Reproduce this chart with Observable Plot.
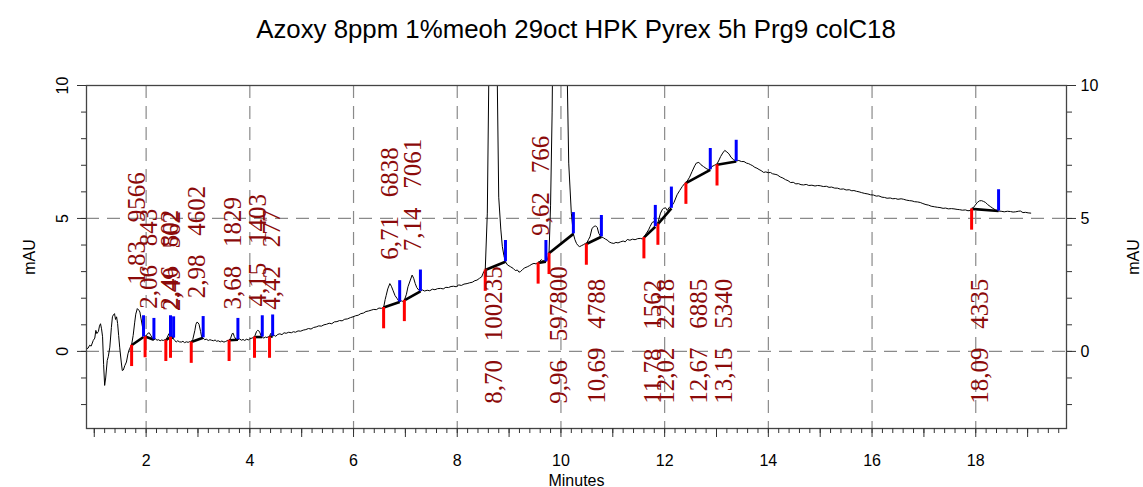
<!DOCTYPE html>
<html><head><meta charset="utf-8">
<script src="https://cdn.jsdelivr.net/npm/d3@7"></script>
<script src="https://cdn.jsdelivr.net/npm/@observablehq/plot@0.6"></script>
<style>
body{margin:0;background:#fff;}
#title{height:56px;position:relative;width:1143px;font-family:"Liberation Sans",Arial,sans-serif;}
#title span{position:absolute;left:576px;top:29px;transform:translate(-50%,-50%);font-size:25.8px;white-space:nowrap;color:#000;}
</style></head><body>
<div id="title"><span>Azoxy 8ppm 1%meoh 29oct HPK Pyrex 5h Prg9 colC18</span></div>
<div id="chart"></div>
<script>
// ---- chromatogram trace (minutes, mAU) ----
const traceT = [0.85,0.88,0.91,0.94,0.98,1.01,1.03,1.05,1.08,1.10,1.12,1.14,1.16,1.18,1.20,1.22,1.25,1.27,1.30,1.33,1.35,1.37,1.39,1.41,1.43,1.45,1.47,1.49,1.52,1.54,1.56,1.59,1.62,1.65,1.68,1.72,1.75,1.78,1.80,1.83,1.86,1.88,1.90,1.93,1.96,1.98,2.01,2.04,2.06,2.09,2.12,2.15,2.18,2.21,2.24,2.27,2.30,2.33,2.36,2.38,2.41,2.44,2.46,2.48,2.49,2.51,2.53,2.55,2.58,2.61,2.64,2.68,2.71,2.74,2.78,2.81,2.84,2.87,2.90,2.94,2.96,2.98,3.00,3.02,3.05,3.07,3.10,3.13,3.16,3.20,3.23,3.26,3.30,3.33,3.36,3.39,3.43,3.46,3.50,3.53,3.56,3.60,3.63,3.66,3.68,3.70,3.73,3.77,3.80,3.84,3.87,3.90,3.94,3.97,4.00,4.04,4.07,4.10,4.13,4.15,4.17,4.19,4.22,4.24,4.27,4.30,4.33,4.36,4.38,4.40,4.42,4.44,4.47,4.50,4.54,4.58,4.62,4.66,4.70,4.75,4.80,4.84,4.88,4.93,4.98,5.03,5.08,5.13,5.18,5.23,5.28,5.33,5.38,5.43,5.48,5.53,5.58,5.63,5.68,5.73,5.78,5.83,5.88,5.94,5.99,6.04,6.09,6.14,6.19,6.24,6.29,6.34,6.39,6.44,6.49,6.54,6.58,6.61,6.63,6.66,6.70,6.73,6.76,6.80,6.84,6.87,6.89,6.92,6.95,6.98,7.02,7.05,7.09,7.13,7.16,7.19,7.22,7.26,7.29,7.33,7.37,7.42,7.47,7.52,7.57,7.62,7.68,7.73,7.78,7.83,7.88,7.93,7.98,8.03,8.08,8.13,8.19,8.24,8.29,8.34,8.38,8.43,8.47,8.51,8.54,8.58,8.61,8.65,8.70,8.74,8.77,8.80,8.84,8.87,8.90,8.93,8.97,9.03,9.08,9.12,9.16,9.19,9.22,9.26,9.30,9.35,9.39,9.44,9.48,9.52,9.56,9.59,9.62,9.65,9.68,9.71,9.74,9.77,9.80,9.83,9.86,9.90,9.96,10.03,10.08,10.12,10.15,10.20,10.24,10.27,10.30,10.33,10.36,10.40,10.44,10.47,10.49,10.53,10.56,10.60,10.64,10.67,10.70,10.73,10.76,10.78,10.82,10.86,10.89,10.93,10.97,11.02,11.06,11.10,11.15,11.20,11.24,11.28,11.33,11.38,11.43,11.48,11.53,11.57,11.60,11.64,11.69,11.72,11.76,11.79,11.82,11.84,11.87,11.92,11.96,11.98,12.02,12.05,12.09,12.13,12.18,12.24,12.29,12.34,12.38,12.43,12.48,12.53,12.58,12.61,12.66,12.70,12.75,12.80,12.85,12.88,12.91,12.96,13.01,13.05,13.08,13.12,13.16,13.20,13.24,13.28,13.33,13.38,13.43,13.48,13.53,13.58,13.62,13.66,13.70,13.74,13.78,13.82,13.86,13.91,13.95,14.00,14.04,14.08,14.13,14.17,14.23,14.28,14.33,14.38,14.43,14.48,14.53,14.58,14.63,14.68,14.73,14.78,14.84,14.90,14.95,15.00,15.06,15.12,15.17,15.22,15.28,15.33,15.39,15.45,15.50,15.56,15.61,15.65,15.70,15.75,15.80,15.86,15.92,15.97,16.03,16.08,16.13,16.19,16.24,16.29,16.35,16.40,16.45,16.50,16.56,16.61,16.66,16.72,16.77,16.82,16.88,16.93,16.98,17.04,17.09,17.14,17.20,17.26,17.31,17.37,17.42,17.47,17.53,17.58,17.64,17.69,17.74,17.80,17.85,17.90,17.92,17.96,17.99,18.03,18.07,18.11,18.15,18.19,18.23,18.28,18.33,18.38,18.44,18.49,18.55,18.61,18.67,18.72,18.77,18.82,18.86,18.91,18.96,19.01,19.06];
const traceV = [0.10,0.12,0.23,0.20,0.41,0.50,0.79,0.67,0.75,0.95,1.04,0.85,0.55,-0.50,-1.28,-1.00,-0.34,-0.20,0.16,0.90,1.30,1.38,1.42,1.20,1.30,1.05,0.60,0.16,-0.40,-0.72,-0.70,-0.53,-0.40,-0.09,0.10,0.25,0.60,1.10,1.40,1.61,1.55,1.48,1.25,0.92,0.60,0.55,0.62,0.69,0.70,0.60,0.50,0.44,0.47,0.42,0.44,0.40,0.43,0.41,0.44,0.42,0.54,0.67,0.66,0.55,0.62,0.52,0.46,0.42,0.35,0.40,0.36,0.35,0.38,0.33,0.36,0.34,0.37,0.35,0.45,0.79,1.02,1.10,1.08,1.02,0.75,0.55,0.50,0.44,0.46,0.41,0.44,0.42,0.40,0.43,0.38,0.40,0.36,0.39,0.35,0.37,0.40,0.42,0.50,0.67,0.68,0.56,0.46,0.44,0.47,0.42,0.45,0.41,0.46,0.43,0.47,0.50,0.52,0.60,0.75,0.79,0.78,0.72,0.58,0.54,0.50,0.54,0.52,0.56,0.55,0.67,0.66,0.58,0.60,0.57,0.64,0.66,0.63,0.70,0.68,0.72,0.70,0.74,0.72,0.77,0.76,0.80,0.82,0.86,0.84,0.90,0.92,0.96,0.95,1.00,1.02,1.06,1.04,1.11,1.12,1.16,1.15,1.21,1.22,1.27,1.30,1.34,1.36,1.42,1.44,1.50,1.52,1.55,1.58,1.57,1.63,1.62,1.65,1.95,2.11,2.35,2.55,2.45,2.30,2.10,1.99,1.90,1.86,1.90,1.88,1.92,2.15,2.43,2.65,2.87,2.75,2.55,2.40,2.30,2.26,2.31,2.27,2.30,2.28,2.34,2.32,2.36,2.37,2.35,2.41,2.40,2.44,2.45,2.43,2.50,2.48,2.53,2.55,2.58,2.60,2.66,2.68,2.75,2.80,2.99,3.06,5.20,10.5,30,45,30,10.5,5.80,4.60,3.94,3.60,3.37,3.25,3.18,3.12,3.04,3.06,2.98,3.00,3.08,3.14,3.18,3.22,3.28,3.31,3.29,3.33,3.38,3.45,3.40,3.42,3.37,3.45,3.69,5.50,9.00,15,60,180,60,18,10.5,7.08,5.20,4.42,4.20,4.06,3.98,3.94,3.98,4.02,4.06,4.04,4.20,4.31,4.63,4.70,4.72,4.66,4.44,4.34,4.31,4.27,4.22,4.19,4.12,4.08,4.06,4.10,4.08,4.12,4.15,4.12,4.21,4.18,4.22,4.20,4.24,4.25,4.23,4.28,4.42,4.57,4.70,4.85,4.88,4.75,4.80,4.85,5.20,5.35,5.38,5.40,5.30,5.42,5.45,5.60,5.89,6.05,6.20,6.30,6.39,6.55,6.77,6.98,7.08,7.11,7.02,6.95,6.88,6.83,6.85,6.95,7.00,7.05,7.20,7.33,7.46,7.56,7.50,7.43,7.30,7.21,7.16,7.18,7.14,7.14,7.08,7.06,7.02,6.98,6.92,6.89,6.84,6.80,6.73,6.75,6.72,6.73,6.68,6.66,6.64,6.56,6.52,6.46,6.42,6.35,6.36,6.30,6.31,6.27,6.26,6.28,6.24,6.25,6.22,6.24,6.23,6.20,6.21,6.17,6.18,6.14,6.14,6.10,6.11,6.07,6.08,6.04,6.05,6.02,6.00,5.97,5.94,5.92,5.89,5.88,5.84,5.85,5.80,5.79,5.76,5.77,5.74,5.75,5.72,5.74,5.72,5.69,5.67,5.66,5.63,5.62,5.60,5.56,5.52,5.50,5.46,5.44,5.42,5.41,5.38,5.39,5.36,5.37,5.36,5.34,5.33,5.31,5.32,5.29,5.30,5.36,5.42,5.50,5.60,5.66,5.67,5.64,5.60,5.52,5.45,5.38,5.32,5.28,5.27,5.25,5.27,5.26,5.24,5.25,5.27,5.28,5.22,5.23,5.21,5.20];

// ---- integrated peaks ----
const peakRT    = [1.83, 2.06, 2.46, 2.49, 2.98, 3.68, 4.15, 4.42, 6.71, 7.14, 8.70, 9.62, 9.96, 10.69, 11.78, 12.02, 12.67, 13.15, 18.09];
const peakArea  = [9566, 843, 802, 562, 4602, 1829, 1403, 277, 6838, 7061, 100235, 766, 597800, 4788, 1562, 2218, 6885, 5340, 4335];
const peakApex  = [1.61, 0.70, 0.67, 0.62, 1.10, 0.68, 0.79, 0.67, 2.55, 2.87, null, 3.45, null, 4.72, 4.88, 5.40, 7.11, 7.56, 5.67];
const labelSide = ["up","up","up","up","up","up","up","up","up","up","down","up","down","down","down","down","down","down","down"];
const startT    = [1.72, 1.98, 2.38, 2.47, 2.87, 3.60, 4.09, 4.38, 6.58, 6.98, 8.54, 9.56, 9.77, 10.49, 11.60, 11.87, 12.41, 13.01, 17.92];
const startV    = [0.23, 0.56, 0.42, 0.54, 0.35, 0.42, 0.54, 0.54, 1.65, 1.92, 3.06, 3.33, 3.69, 4.04, 4.28, 4.79, 6.33, 7.02, 5.36];
const endT      = [1.95, 2.15, 2.47, 2.53, 3.10, 3.77, 4.24, 4.44, 6.89, 7.29, 8.93, 9.71, 10.24, 10.78, 11.82, 12.13, 12.88, 13.38, 18.44];
const endV      = [0.54, 0.44, 0.54, 0.50, 0.51, 0.44, 0.54, 0.57, 1.86, 2.26, 3.37, 3.37, 4.42, 4.31, 4.69, 5.38, 6.83, 7.14, 5.28];

// ---- axes ----
const xGrid = [2, 4, 6, 8, 10, 12, 14, 16, 18];
const yGrid = [0, 5, 10];
const xMinor = d3.range(0, 94).map(i => +(1 + i * 0.2).toFixed(1));
const xMajor = d3.range(1, 20);
const yMinor = d3.range(-2, 11);

const trace = traceT.map((t, i) => ({t, v: traceV[i]}));
const peaks = peakRT.map((rt, i) => ({
  rt, area: peakArea[i], apex: peakApex[i], side: labelSide[i],
  s: startT[i], sv: startV[i], e: endT[i], ev: endV[i],
  label: rt.toFixed(2).replace(".", ",") + "\u00a0\u00a0\u00a0" + peakArea[i]
}));

const TICK = 0.8;   // length of start/end markers (mAU)
const noText = () => "";

const chart = Plot.plot({
  width: 1143, height: 431,
  marginTop: 29, marginBottom: 59, marginLeft: 86, marginRight: 77,
  style: {fontFamily: "'Liberation Sans', Arial, sans-serif", fontSize: "16px", background: "white", color: "black", overflow: "visible"},
  x: {domain: [0.85, 19.75], label: null},
  y: {domain: [-2.9, 10], label: null},
  marks: [
    Plot.ruleX(xGrid, {stroke: "#8a8a8a", strokeWidth: 1.2, strokeDasharray: "13,8"}),
    Plot.ruleY(yGrid, {stroke: "#8a8a8a", strokeWidth: 1.2, strokeDasharray: "13,8"}),
    Plot.line(trace, {x: "t", y: "v", stroke: "black", strokeWidth: 1, clip: true}),
    Plot.link(peaks, {x1: "s", y1: "sv", x2: "e", y2: "ev", stroke: "black", strokeWidth: 2.6}),
    Plot.ruleX(peaks, {x: "s", y1: "sv", y2: d => d.sv - TICK, stroke: "#ff0000", strokeWidth: 3}),
    Plot.ruleX(peaks, {x: "e", y1: "ev", y2: d => d.ev + TICK, stroke: "#0000ff", strokeWidth: 3}),
    Plot.text(peaks, {
      x: "rt", y: d => d.side === "up" ? d.apex + 0.9 : -1.97, text: "label",
      rotate: -90, textAnchor: "start", lineAnchor: "middle",
      fill: "#8b0a0a", fontSize: 25, fontFamily: "'Liberation Serif', 'Times New Roman', serif"
    }),
    Plot.frame({stroke: "#444", strokeWidth: 1.3}),
    Plot.axisX(xMinor, {tickSize: 5, tickFormat: noText, label: null, stroke: "#333"}),
    Plot.axisX(xMajor, {tickSize: 9, tickFormat: noText, label: null, stroke: "#333"}),
    Plot.axisX(xGrid, {tickSize: 0, tickPadding: 26, label: null, fontSize: 16}),
    Plot.axisY(yMinor, {anchor: "left", tickSize: 5, tickFormat: noText, label: null, stroke: "#333"}),
    Plot.axisY(yGrid, {anchor: "left", tickSize: 9, tickFormat: noText, label: null, stroke: "#333"}),
    Plot.axisY(yMinor, {anchor: "right", tickSize: 5, tickFormat: noText, label: null, stroke: "#333"}),
    Plot.axisY(yGrid, {anchor: "right", tickSize: 9, tickFormat: noText, label: null, stroke: "#333"}),
    Plot.axisY(yGrid, {anchor: "right", tickSize: 0, tickPadding: 14, label: null, fontSize: 16}),
    Plot.text(yGrid, {y: d => d, text: d => String(d), frameAnchor: "left", dx: -24, rotate: -90, textAnchor: "middle", lineAnchor: "middle", fontSize: 16}),
    Plot.text(["mAU"], {frameAnchor: "left", dx: -57, rotate: -90, textAnchor: "middle", lineAnchor: "middle", fontSize: 16}),
    Plot.text(["mAU"], {frameAnchor: "right", dx: 67, rotate: -90, textAnchor: "middle", lineAnchor: "middle", fontSize: 16}),
    Plot.text(["Minutes"], {frameAnchor: "bottom", dy: 52, textAnchor: "middle", lineAnchor: "middle", fontSize: 16})
  ]
});
document.getElementById("chart").appendChild(chart);
</script>
</body></html>
